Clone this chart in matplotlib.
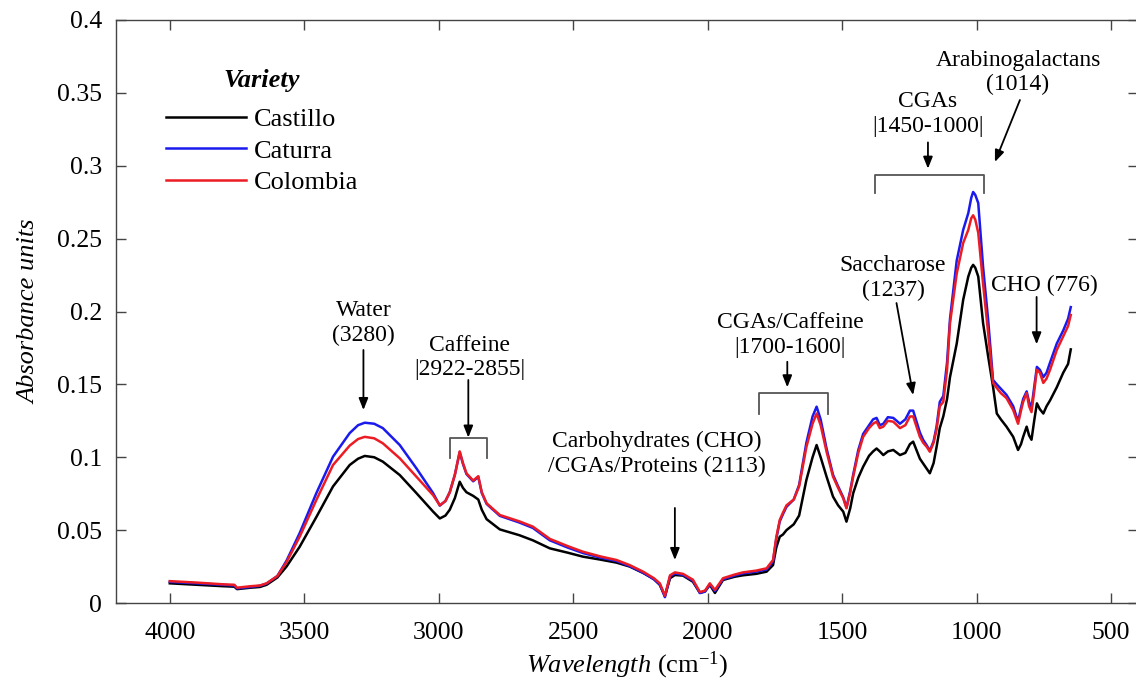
import matplotlib
matplotlib.use("Agg")
import matplotlib.pyplot as plt
from matplotlib.ticker import FuncFormatter

plt.rcParams['font.family'] = ['Liberation Serif', 'DejaVu Serif']
plt.rcParams['mathtext.fontset'] = 'custom'
plt.rcParams['mathtext.rm'] = 'Liberation Serif'
plt.rcParams['mathtext.it'] = 'Liberation Serif:italic'

# ---------------- data ----------------
wavenumber = [4000, 3900, 3800, 3760, 3750, 3700, 3665, 3640, 3600, 3566, 3517, 3455, 3393, 3331, 3300,
              3275, 3240, 3208, 3145, 3083, 3021, 2996, 2975, 2959, 2940, 2922, 2910, 2897, 2872, 2853,
              2840, 2822, 2773, 2700, 2650, 2587, 2520, 2464, 2400, 2339, 2290, 2240, 2200, 2178, 2159,
              2140, 2122, 2092, 2055, 2029, 2010, 1992, 1973, 1943, 1900, 1869, 1820, 1781, 1757, 1745,
              1732, 1720, 1707, 1680, 1660, 1633, 1610, 1595, 1580, 1558, 1534, 1515, 1496, 1484, 1470,
              1459, 1440, 1422, 1400, 1385, 1372, 1360, 1347, 1330, 1310, 1285, 1265, 1248, 1236, 1211,
              1199, 1185, 1174, 1160, 1149, 1137, 1124, 1110, 1099, 1074, 1050, 1031, 1020, 1013, 1005,
              994, 976, 957, 939, 925, 910, 889, 864, 846, 835, 827, 814, 805, 796, 786,
              776, 765, 752, 740, 727, 702, 678, 660, 650]

castillo = [0.0135, 0.0125, 0.0115, 0.0112, 0.0095, 0.0105, 0.0110, 0.0125, 0.0175, 0.0250, 0.0386, 0.0590, 0.0800, 0.0947, 0.0990,
            0.1009, 0.1000, 0.0970, 0.0878, 0.0754, 0.0627, 0.0580, 0.0600, 0.0640, 0.0720, 0.0832, 0.0790, 0.0760, 0.0735, 0.0710,
            0.0640, 0.0575, 0.0505, 0.0465, 0.0430, 0.0375, 0.0345, 0.0318, 0.0298, 0.0277, 0.0250, 0.0206, 0.0165, 0.0124, 0.0048,
            0.0170, 0.0192, 0.0188, 0.0146, 0.0070, 0.0080, 0.0124, 0.0069, 0.0158, 0.0180, 0.0190, 0.0200, 0.0215, 0.0260, 0.0380,
            0.0455, 0.0470, 0.0500, 0.0540, 0.0600, 0.0844, 0.1000, 0.1084, 0.1000, 0.0867, 0.0730, 0.0670, 0.0627, 0.0558, 0.0650,
            0.0753, 0.0860, 0.0935, 0.1010, 0.1040, 0.1060, 0.1040, 0.1015, 0.1040, 0.1050, 0.1015, 0.1030, 0.1090, 0.1107, 0.0990,
            0.0958, 0.0920, 0.0890, 0.0960, 0.1070, 0.1200, 0.1280, 0.1400, 0.1550, 0.1780, 0.2080, 0.2240, 0.2300, 0.2320, 0.2300,
            0.2240, 0.1920, 0.1690, 0.1484, 0.1300, 0.1260, 0.1210, 0.1140, 0.1050, 0.1090, 0.1140, 0.1210, 0.1150, 0.1120, 0.1250,
            0.1370, 0.1330, 0.1300, 0.1350, 0.1390, 0.1480, 0.1580, 0.1640, 0.1740]

caturra = [0.0145, 0.0135, 0.0124, 0.0120, 0.0100, 0.0110, 0.0118, 0.0133, 0.0185, 0.0290, 0.0480, 0.0754, 0.1004, 0.1166, 0.1220,
           0.1237, 0.1230, 0.1200, 0.1084, 0.0924, 0.0754, 0.0668, 0.0700, 0.0760, 0.0880, 0.1035, 0.0955, 0.0885, 0.0835, 0.0865,
           0.0755, 0.0680, 0.0598, 0.0552, 0.0515, 0.0430, 0.0380, 0.0343, 0.0312, 0.0288, 0.0253, 0.0208, 0.0162, 0.0128, 0.0040,
           0.0182, 0.0203, 0.0193, 0.0153, 0.0068, 0.0078, 0.0128, 0.0082, 0.0163, 0.0188, 0.0203, 0.0215, 0.0230, 0.0285, 0.0440,
           0.0560, 0.0610, 0.0660, 0.0710, 0.0810, 0.1100, 0.1280, 0.1347, 0.1260, 0.1060, 0.0880, 0.0800, 0.0725, 0.0655, 0.0770,
           0.0880, 0.1050, 0.1160, 0.1220, 0.1260, 0.1270, 0.1220, 0.1230, 0.1275, 0.1270, 0.1230, 0.1260, 0.1320, 0.1320, 0.1170,
           0.1120, 0.1080, 0.1045, 0.1110, 0.1210, 0.1380, 0.1420, 0.1650, 0.1950, 0.2350, 0.2560, 0.2675, 0.2780, 0.2820, 0.2800,
           0.2744, 0.2306, 0.1940, 0.1530, 0.1500, 0.1470, 0.1428, 0.1350, 0.1245, 0.1340, 0.1400, 0.1452, 0.1380, 0.1340, 0.1480,
           0.1620, 0.1600, 0.1550, 0.1580, 0.1650, 0.1780, 0.1870, 0.1950, 0.2030]

colombia = [0.0150, 0.0140, 0.0128, 0.0125, 0.0105, 0.0115, 0.0120, 0.0135, 0.0185, 0.0280, 0.0455, 0.0707, 0.0947, 0.1080, 0.1125,
            0.1140, 0.1130, 0.1096, 0.0993, 0.0867, 0.0740, 0.0670, 0.0700, 0.0760, 0.0880, 0.1040, 0.0960, 0.0890, 0.0840, 0.0870,
            0.0760, 0.0684, 0.0604, 0.0560, 0.0524, 0.0440, 0.0390, 0.0352, 0.0320, 0.0295, 0.0260, 0.0215, 0.0170, 0.0135, 0.0050,
            0.0190, 0.0210, 0.0200, 0.0160, 0.0075, 0.0085, 0.0135, 0.0090, 0.0170, 0.0195, 0.0210, 0.0222, 0.0238, 0.0295, 0.0450,
            0.0570, 0.0620, 0.0670, 0.0710, 0.0800, 0.1070, 0.1230, 0.1300, 0.1220, 0.1038, 0.0867, 0.0790, 0.0718, 0.0650, 0.0760,
            0.0867, 0.1030, 0.1140, 0.1200, 0.1230, 0.1244, 0.1200, 0.1210, 0.1250, 0.1244, 0.1200, 0.1220, 0.1280, 0.1280, 0.1140,
            0.1100, 0.1070, 0.1038, 0.1100, 0.1190, 0.1350, 0.1380, 0.1600, 0.1920, 0.2260, 0.2470, 0.2560, 0.2640, 0.2660, 0.2630,
            0.2540, 0.2190, 0.1850, 0.1510, 0.1475, 0.1440, 0.1406, 0.1324, 0.1230, 0.1320, 0.1380, 0.1440, 0.1350, 0.1310, 0.1450,
            0.1600, 0.1580, 0.1510, 0.1540, 0.1600, 0.1736, 0.1830, 0.1900, 0.1976]

series_names = ["Castillo", "Caturra", "Colombia"]
series_values = [castillo, caturra, colombia]
series_colors = ["#000000", "#1a1aee", "#ec1c24"]

x_ticks = [4000, 3500, 3000, 2500, 2000, 1500, 1000, 500]
y_ticks = [0, 0.05, 0.1, 0.15, 0.2, 0.25, 0.3, 0.35, 0.4]

# annotations: (text, text centre, arrow tail, arrow head)
annotations = [
    ("Water\n(3280)", (3280, 0.1921), (3280, 0.1736), (3280, 0.1324)),
    ("Caffeine\n|2922-2855|", (2884, 0.1684), (2890, 0.153), (2890, 0.1135)),
    ("Carbohydrates (CHO)\n/CGAs/Proteins (2113)", (2190, 0.1022), (2122, 0.0652), (2122, 0.0295)),
    ("CGAs/Caffeine\n|1700-1600|", (1694, 0.1839), (1704, 0.1655), (1704, 0.148)),
    ("Saccharose\n(1237)", (1311, 0.2230), (1298, 0.2058), (1236, 0.1427)),
    ("CGAs\n|1450-1000|", (1181, 0.3355), (1181, 0.316), (1181, 0.298)),
    ("Arabinogalactans\n(1014)", (846, 0.3640), (839, 0.3451), (932, 0.3026)),
    ("CHO (776)", (748, 0.2182), (777, 0.2100), (777, 0.1775)),
]
brackets = [
    (2959, 2820, 0.1130, 0.0993),
    (1809, 1552, 0.1439, 0.1300),
    (1378, 973, 0.2937, 0.2810),
]

# ---------------- figure ----------------
fig = plt.figure(figsize=(11.36, 6.83), dpi=100)
ax = fig.add_axes([116 / 1136, 80 / 683, 1022 / 1136, 583 / 683])

for name, vals, col in zip(series_names, series_values, series_colors):
    ax.plot(wavenumber, vals, color=col, lw=1.8, label=name)

ax.set_xlim(4200, 400)
ax.set_ylim(0, 0.4)
ax.set_xticks(x_ticks)
ax.set_yticks(y_ticks)
ax.yaxis.set_major_formatter(FuncFormatter(lambda v, p: "%g" % v))
ax.tick_params(direction='in', length=7, width=1.0, color='#444444',
               labelsize=18.5, top=True, right=True)
ax.tick_params(axis='x', pad=14)
ax.tick_params(axis='y', pad=10)
for s in ax.spines.values():
    s.set_color('#444444')
    s.set_linewidth(1.0)

ax.set_xlabel("$\\it{Wavelength}$ (cm$^{-1}$)", fontsize=19, labelpad=4)
ax.set_ylabel("Absorbance units", fontsize=19, style='italic', labelpad=12)

leg = ax.legend(loc='upper left', bbox_to_anchor=(0.039, 0.868), frameon=False,
                fontsize=19, handlelength=3.0, handletextpad=0.3, labelspacing=0.31,
                borderaxespad=0)
for line in leg.get_lines():
    line.set_linewidth(1.8)
ax.text(0.1429, 0.897, "Variety", transform=ax.transAxes, ha='center', va='center',
        fontsize=19, fontweight='bold', style='italic')

for text, txy, tail, head in annotations:
    ax.text(txy[0], txy[1], text, ha='center', va='center', fontsize=17)
    ax.annotate("", xy=head, xytext=tail,
                arrowprops=dict(arrowstyle='-|>,head_length=0.7,head_width=0.28',
                                color='black', lw=1.3, shrinkA=0, shrinkB=0))

for x0, x1, ytop, ybot in brackets:
    ax.plot([x0, x0, x1, x1], [ybot, ytop, ytop, ybot], color='#555555', lw=1.3)

fig.savefig("out.png", dpi=100)
